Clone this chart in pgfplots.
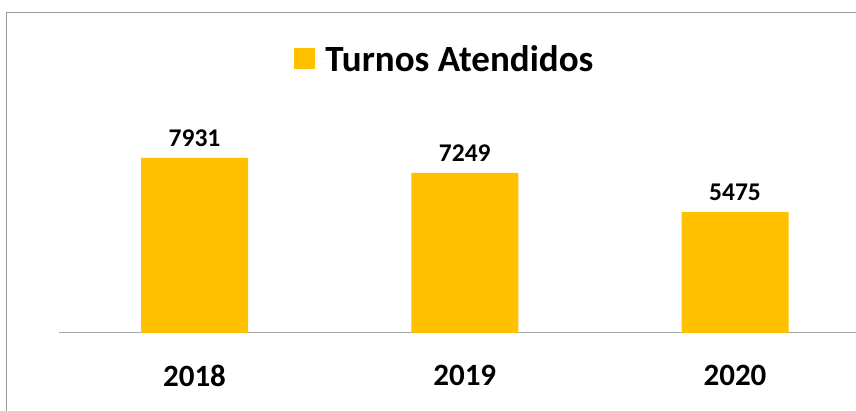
\documentclass[border=0pt]{standalone}
\usepackage{fontspec}
\setmainfont{Carlito}
\usepackage{pgfplots}
\pgfplotsset{compat=1.18}
\definecolor{gold}{HTML}{FFC000}
\definecolor{frame}{HTML}{9A9A9A}
\definecolor{axisgray}{HTML}{A6A6A6}

\begin{document}
\begin{tikzpicture}[x=1pt,y=1pt]
\useasboundingbox (0,0) rectangle (856,411);
\draw[frame, line width=1.4pt] (6.5,-40) -- (6.5,398.5) -- (900,398.5);
\begin{axis}[
    at={(194.5pt,78pt)}, anchor=origin,
    scale only axis,
    width=810.75pt, height=309pt,
    xmin=-0.5, xmax=2.5,
    ymin=0, ymax=14000,
    ybar, bar width=107pt,
    clip=false,
    axis x line*=bottom,
    hide y axis,
    x axis line style={draw=axisgray, line width=1pt},
    xtick=data, xticklabels={2018,2019,2020},
    major tick length=0pt,
    xticklabel style={font=\fontsize{31}{31}\selectfont\bfseries, inner sep=0pt, anchor=north, yshift=-32pt},
    /pgf/number format/1000 sep={},
    /pgf/number format/assume math mode=true,
    nodes near coords,
    nodes near coords style={font=\fontsize{25.5}{25.5}\selectfont\bfseries, inner sep=0pt, anchor=south, yshift=11pt},
    legend style={at={(0.4743,0.8867)}, anchor=center, draw=none, fill=none, inner sep=0pt,
        font=\fontsize{37}{37}\selectfont\bfseries, nodes={inner sep=0pt}},
    legend image code/.code={\fill[gold] (0pt,-10.5pt) rectangle (21pt,10.5pt); \path (21pt,0pt) -- (31pt,0pt);},
]
\addplot[fill=gold, draw=none] coordinates {(0,7931) (1,7249) (2,5475)};
\legend{Turnos Atendidos}
\end{axis}
\end{tikzpicture}
\end{document}
